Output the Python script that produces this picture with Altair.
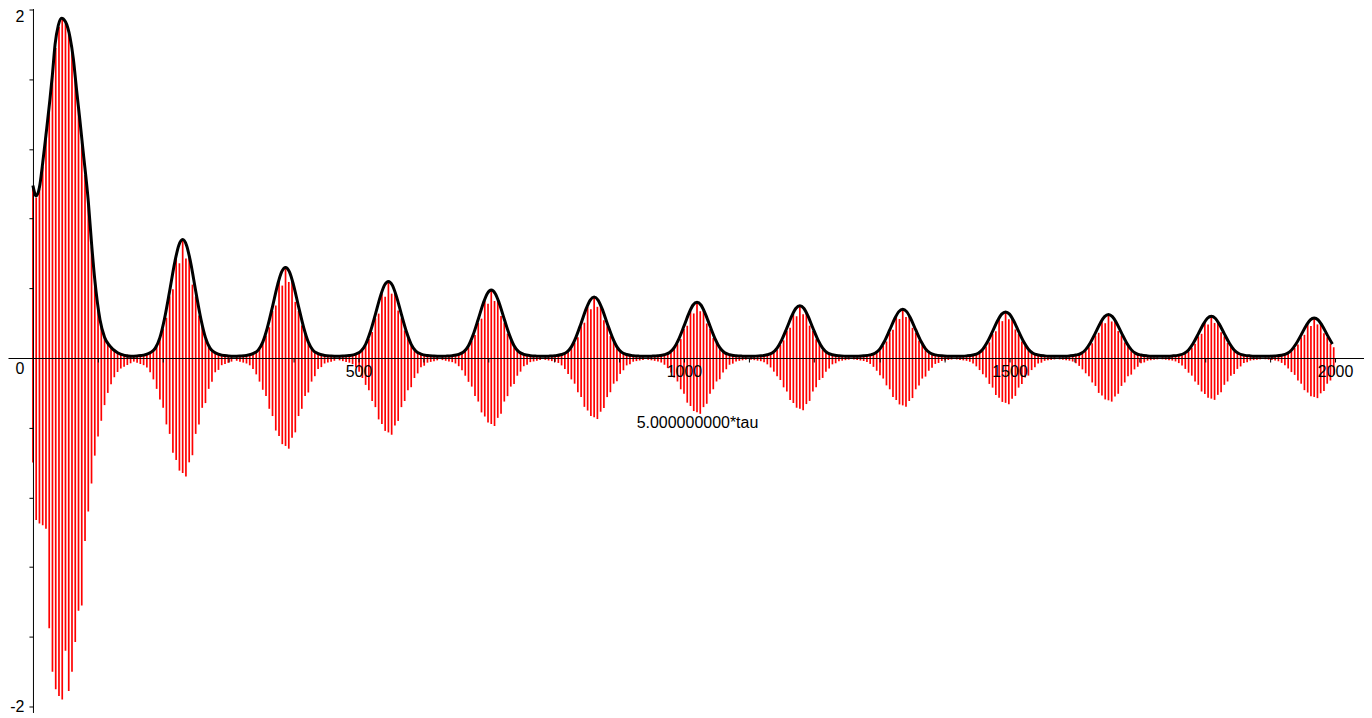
import altair as alt
import pandas as pd

# ---- data ----
# first (large) bump of the black envelope
B1_ENV_X = [0, 5, 10, 15, 20, 26, 30, 34, 39, 44, 50, 57, 62, 67, 72, 77, 85, 90, 95, 103, 110, 118, 130, 141]
B1_ENV_Y = [0.99, 0.93, 0.98, 1.12, 1.28, 1.48, 1.63, 1.80, 1.91, 1.95, 1.93, 1.84, 1.72, 1.54, 1.37, 1.19, 0.90, 0.66, 0.45, 0.22, 0.12, 0.07, 0.03, 0.015]

# later bumps: centres and peak heights
BUMP_CENTERS = [230, 388, 546, 704, 862, 1020, 1178, 1336, 1494, 1652, 1810, 1968]
BUMP_PEAKS = [0.68, 0.52, 0.44, 0.39, 0.35, 0.32, 0.30, 0.28, 0.265, 0.25, 0.24, 0.23]
BASE = 0.01

# envelope shape of one bump (offset from centre, fraction of peak)
PROF_OFF = [-79, -70, -60, -50, -42, -35, -28, -20, -12, -6, 0, 6, 12, 20, 28, 35, 42, 50, 60, 70, 79]
PROF_REL = [0, 0.003, 0.01, 0.03, 0.07, 0.16, 0.32, 0.56, 0.81, 0.95, 1, 0.95, 0.81, 0.56, 0.32, 0.16, 0.07, 0.03, 0.01, 0.003, 0]

# red stripes of one bump (offset, top and bottom as fraction of peak)
ST_OFF = [-75, -70, -65, -60, -55, -50, -45, -40, -35, -30, -25, -20, -15, -10, -5, 0,
          5, 10, 15, 20, 25, 30, 35, 40, 45, 50, 55, 60, 65, 70, 75]
ST_TOP = [0.02, 0.02, 0.03, 0.03, 0.04, 0.05, 0.07, 0.10, 0.16, 0.25, 0.34, 0.52, 0.58, 0.84, 0.80, 0.99,
          0.84, 0.86, 0.62, 0.52, 0.36, 0.27, 0.16, 0.11, 0.07, 0.05, 0.04, 0.03, 0.03, 0.02, 0.02]
ST_BOT = [0.03, 0.04, 0.05, 0.06, 0.08, 0.12, 0.18, 0.26, 0.35, 0.42, 0.56, 0.64, 0.80, 0.86, 0.95, 0.97,
          1.00, 0.88, 0.82, 0.64, 0.56, 0.42, 0.38, 0.26, 0.20, 0.12, 0.10, 0.06, 0.05, 0.04, 0.03]

# red stripes of the first bump
B1_ST_X = [0, 5, 10, 15, 20, 25, 30, 35, 40, 45, 50, 55, 60, 65, 70, 75,
           80, 85, 90, 95, 100, 105, 110, 115, 120, 125, 130, 135, 140, 145, 150]
B1_ST_TOP = [0.98, 0.92, 0.97, 1.10, 1.26, 1.44, 1.62, 1.78, 1.90, 1.94, 1.92, 1.86, 1.76, 1.60, 1.44, 1.24,
             1.05, 0.88, 0.64, 0.44, 0.28, 0.18, 0.12, 0.08, 0.06, 0.04, 0.03, 0.02, 0.02, 0.02, 0.01]
B1_ST_BOT = [-0.60, -0.93, -0.95, -0.96, -0.98, -1.55, -1.80, -1.90, -1.94, -1.96, -1.68, -1.91, -1.80, -1.63, -1.45, -1.42,
             -1.05, -0.88, -0.72, -0.56, -0.45, -0.36, -0.27, -0.20, -0.15, -0.11, -0.08, -0.06, -0.05, -0.04, -0.03]

X_TICKS = [100, 200, 300, 400, 500, 600, 700, 800, 900, 1000, 1100, 1200, 1300, 1400, 1500, 1600, 1700, 1800, 1900, 2000]
Y_TICKS = [-2, -1.8, -1.6, -1.4, -1.2, -1, -0.8, -0.6, -0.4, -0.2, 0, 0.2, 0.4, 0.6, 0.8, 1, 1.2, 1.4, 1.6, 1.8, 2]
X_MAX = 2000

# ---- build tables ----
env_rows = [{"x": x, "y": y} for x, y in zip(B1_ENV_X, B1_ENV_Y)]
for c, p in zip(BUMP_CENTERS, BUMP_PEAKS):
    for o, r in zip(PROF_OFF, PROF_REL):
        if c + o <= X_MAX:
            env_rows.append({"x": c + o, "y": BASE + (p - BASE) * r})
env = pd.DataFrame(env_rows)

st_rows = [{"x": x, "top": t, "bot": b} for x, t, b in zip(B1_ST_X, B1_ST_TOP, B1_ST_BOT)]
for c, p in zip(BUMP_CENTERS, BUMP_PEAKS):
    for o, t, b in zip(ST_OFF, ST_TOP, ST_BOT):
        if c + o <= X_MAX:
            st_rows.append({"x": c + o, "top": p * t, "bot": -p * b})
stripes = pd.DataFrame(st_rows)

FONT = "Liberation Sans"
xscale = alt.Scale(domain=[-38.3, 2044.5], nice=False, zero=False)
yscale = alt.Scale(domain=[-2.034, 2.006], nice=False, zero=False)

x_axis = alt.Axis(
    values=X_TICKS,
    labelExpr="datum.value % 500 == 0 ? toString(datum.value) : ''",
    offset=-355, tickSize=4, labelPadding=2, grid=False,
    domainColor="black", tickColor="black", labelColor="black",
    labelFont=FONT, labelFontSize=16, labelOverlap=False,
    title="5.000000000*tau", titleFont=FONT, titleFontSize=16,
    titleFontWeight="normal", titleColor="black",
    titleX=690, titleY=65, titleBaseline="middle", titleAlign="center",
    zindex=1,
)
y_axis = alt.Axis(
    values=Y_TICKS,
    labelExpr="abs(datum.value - round(datum.value)) < 0.001 ? toString(round(datum.value)) : ''",
    offset=-25, tickSize=4, labelPadding=5, grid=False,
    domainColor="black", tickColor="black", labelColor="black",
    labelFont=FONT, labelFontSize=16, labelOverlap=False,
    labelOffset={"condition": [{"test": "datum.value == 0", "value": 10},
                               {"test": "datum.value == 2", "value": 7}], "value": 0},
    title=None, zindex=1,
)

red = alt.Chart(stripes).mark_rule(color="#ff0000", strokeWidth=1.7).encode(
    x=alt.X("x:Q", scale=xscale, axis=x_axis),
    y=alt.Y("top:Q", scale=yscale, axis=y_axis),
    y2="bot:Q",
)
black = alt.Chart(env).mark_line(color="black", strokeWidth=3, interpolate="monotone").encode(
    x=alt.X("x:Q", scale=xscale),
    y=alt.Y("y:Q", scale=yscale),
)

chart = alt.layer(red, black).properties(
    width=1358, height=705,
    padding={"left": 0, "top": 0, "right": 0, "bottom": 5},
    autosize=alt.AutoSizeParams(type="none"),
    background="white",
).configure_view(stroke=None)

chart.save("out.html", embed_options={"renderer": "svg", "actions": False})
